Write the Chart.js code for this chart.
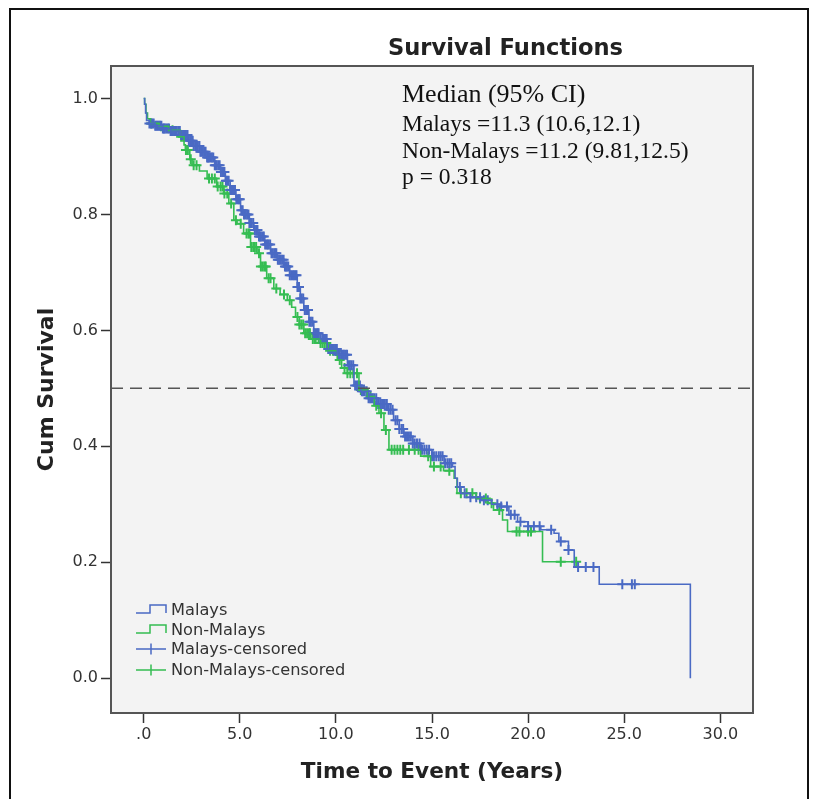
<!DOCTYPE html>
<html>
<head>
<meta charset="utf-8">
<title>Survival Functions</title>
<script src="https://cdn.jsdelivr.net/npm/chart.js@4.4.1/dist/chart.umd.min.js"></script>
<style>
  html, body { margin: 0; padding: 0; background: #fff; }
  #wrap { position: relative; width: 826px; height: 799px; }
</style>
</head>
<body>
<div id="wrap"><canvas id="km"></canvas></div>
<script>
// Kaplan-Meier steps: time (years) and survival after the event at that time
const malaysTime = [0, 0.05, 0.1, 0.15, 0.3, 0.6, 1.0, 1.4, 1.9, 2.3, 2.6, 2.95, 3.3, 3.7, 4.0, 4.25, 4.5, 4.8,
  5.04, 5.2, 5.5, 5.73, 6.0, 6.3, 6.6, 6.95, 7.29, 7.6, 7.99, 8.15, 8.33, 8.6, 8.85, 9.2, 9.55, 10.07, 10.6,
  10.94, 11.3, 11.7, 12.2, 12.68, 13.0, 13.3, 13.54, 14.0, 14.41, 15.0, 15.63, 16.06, 16.2, 16.32, 16.5, 17.0,
  17.54, 18.1, 18.58, 19.0, 19.45, 20.0, 20.66, 21.35, 21.6, 22.1, 22.4, 23.7, 28.44];
const malaysSurv = [1.0, 0.99, 0.975, 0.962, 0.957, 0.953, 0.948, 0.944, 0.937, 0.927, 0.918, 0.908, 0.898, 0.885,
  0.873, 0.858, 0.842, 0.826, 0.807, 0.8, 0.785, 0.773, 0.762, 0.748, 0.733, 0.722, 0.71, 0.695, 0.675, 0.655,
  0.635, 0.615, 0.595, 0.585, 0.568, 0.558, 0.54, 0.505, 0.495, 0.483, 0.473, 0.463, 0.445, 0.43, 0.417, 0.405,
  0.394, 0.383, 0.371, 0.365, 0.345, 0.33, 0.319, 0.312, 0.307, 0.3, 0.296, 0.282, 0.27, 0.262, 0.256, 0.25,
  0.236, 0.221, 0.192, 0.162, 0];

const nonMalaysTime = [0, 0.05, 0.12, 0.2, 0.35, 0.8, 1.3, 1.91, 2.1, 2.17, 2.4, 2.52, 2.9, 3.3, 3.8, 4.17, 4.43,
  4.69, 4.86, 5.2, 5.56, 5.9, 6.08, 6.4, 6.77, 7.1, 7.47, 7.7, 7.9, 8.1, 8.33, 8.7, 9.2, 9.6, 10.07, 10.3, 10.6,
  11.2, 11.64, 12.0, 12.24, 12.5, 12.76, 14.41, 14.93, 15.6, 16.15, 16.3, 17.3, 17.9, 18.2, 18.67, 18.93, 20.75,
  22.5];
const nonMalaysSurv = [1.0, 0.99, 0.975, 0.965, 0.957, 0.952, 0.945, 0.934, 0.92, 0.911, 0.895, 0.885, 0.875,
  0.862, 0.848, 0.836, 0.819, 0.79, 0.784, 0.767, 0.744, 0.733, 0.71, 0.69, 0.672, 0.662, 0.652, 0.64, 0.623,
  0.61, 0.595, 0.585, 0.578, 0.565, 0.549, 0.535, 0.526, 0.497, 0.486, 0.47, 0.457, 0.428, 0.394, 0.383, 0.365,
  0.358, 0.345, 0.319, 0.31, 0.302, 0.29, 0.273, 0.253, 0.201, 0.201];

// censored follow-up times
const malaysCensor = [0.3, 0.38, 0.45, 0.52, 0.6, 0.66, 0.72, 0.78, 0.85, 0.92, 1.0, 1.05, 1.1, 1.18, 1.25,
  1.32, 1.4, 1.45, 1.5, 1.58, 1.65, 1.72, 1.8, 1.88, 1.95, 2.0, 2.05, 2.12, 2.2, 2.28, 2.35, 2.42, 2.5, 2.55,
  2.6, 2.68, 2.75, 2.82, 2.9, 2.95, 3.0, 3.08, 3.15, 3.22, 3.3, 3.35, 3.4, 3.48, 3.55, 3.62, 3.7, 3.75, 3.8,
  3.88, 3.95, 4.02, 4.1, 4.15, 4.2, 4.28, 4.35, 4.42, 4.5, 4.55, 4.6, 4.68, 4.75, 4.82, 4.9, 4.95, 5.0, 5.08,
  5.15, 5.22, 5.3, 5.38, 5.45, 5.5, 5.55, 5.62, 5.7, 5.78, 5.85, 5.92, 6.0, 6.05, 6.1, 6.18, 6.25, 6.32, 6.4,
  6.45, 6.5, 6.58, 6.65, 6.72, 6.8, 6.85, 6.9, 6.98, 7.05, 7.12, 7.2, 7.28, 7.35, 7.4, 7.45, 7.52, 7.6, 7.68,
  7.75, 7.82, 7.9, 7.95, 8.0, 8.08, 8.15, 8.22, 8.3, 8.38, 8.45, 8.5, 8.55, 8.62, 8.7, 8.78, 8.85, 8.92, 9.0,
  9.05, 9.1, 9.2, 9.3, 9.38, 9.45, 9.52, 9.6, 9.68, 9.75, 9.82, 9.9, 9.98, 10.05, 10.12, 10.2, 10.28, 10.35,
  10.42, 10.5, 10.58, 10.65, 10.72, 10.8, 10.9, 11.0, 11.08, 11.15, 11.25, 11.35, 11.42, 11.5, 11.6, 11.7,
  11.78, 11.85, 11.92, 12.0, 12.1, 12.2, 12.3, 12.4, 12.48, 12.55, 12.65, 12.75, 12.85, 12.95, 13.1, 13.2,
  13.3, 13.42, 13.5, 13.6, 13.7, 13.8, 13.9, 14.0, 14.1, 14.22, 14.35, 14.48, 14.6, 14.72, 14.85, 15.0, 15.1,
  15.22, 15.35, 15.45, 15.55, 15.68, 15.8, 15.9, 16.0, 16.45, 16.7, 17.0, 17.3, 17.5, 17.7, 17.9, 18.4, 18.6,
  18.9, 19.1, 19.3, 19.6, 20.0, 20.3, 20.6, 21.2, 21.7, 22.1, 22.6, 23.0, 23.4, 24.9, 25.4, 25.55];
const nonMalaysCensor = [0.4, 0.9, 1.5, 1.95, 2.05, 2.2, 2.3, 2.45, 2.6, 2.75, 3.4, 3.55, 3.7, 3.85, 4.0, 4.1,
  4.2, 4.35, 4.55, 4.8, 5.05, 5.35, 5.45, 5.5, 5.6, 5.7, 5.75, 5.85, 6.0, 6.1, 6.2, 6.3, 6.35, 6.5, 6.6, 6.9,
  7.3, 7.6, 8.0, 8.1, 8.2, 8.3, 8.4, 8.5, 8.6, 8.65, 8.8, 8.9, 8.95, 9.1, 9.2, 9.3, 9.4, 9.5, 9.7, 9.85, 10.0,
  10.2, 10.45, 10.6, 10.75, 10.9, 11.1, 11.3, 11.45, 11.8, 12.1, 12.35, 12.6, 12.9, 13.05, 13.2, 13.35, 13.5,
  13.8, 14.1, 14.3, 14.8, 15.1, 15.45, 15.9, 16.5, 16.8, 17.1, 17.5, 17.8, 18.1, 18.5, 19.4, 19.55, 20.0,
  20.15, 21.7, 22.5];

const medianLevel = 0.5;

const xTicks = [0, 5, 10, 15, 20, 25, 30];
const xTickLabels = ['.0', '5.0', '10.0', '15.0', '20.0', '25.0', '30.0'];
const yTicks = [0, 0.2, 0.4, 0.6, 0.8, 1.0];
const yTickLabels = ['0.0', '0.2', '0.4', '0.6', '0.8', '1.0'];

const noteLines = ['Median (95% CI)', 'Malays =11.3 (10.6,12.1)', 'Non-Malays =11.2 (9.81,12.5)', 'p = 0.318'];

const BLUE = '#4a6ac4';
const GREEN = '#35bd52';
const X_MIN = -1.7, X_MAX = 31.7;

function toPoints(times, surv) {
  return times.map((t, i) => ({ x: t, y: surv[i] }));
}

// survival value of the step curve at time t
function survivalAt(times, surv, t) {
  let s = surv[0];
  for (let i = 0; i < times.length; i++) {
    if (times[i] <= t) s = surv[i]; else break;
  }
  return s;
}

function censorPoints(censor, times, surv) {
  return censor.map(t => ({ x: t, y: survivalAt(times, surv, t) }));
}

const framePlugin = {
  id: 'frame',
  beforeDatasetsDraw(chart) {
    const { ctx, chartArea: a } = chart;
    ctx.save();
    ctx.fillStyle = '#f3f3f3';
    ctx.fillRect(a.left, a.top, a.right - a.left, a.bottom - a.top);
    ctx.restore();
  },
  afterDatasetsDraw(chart) {
    const { ctx, chartArea: a } = chart;
    ctx.save();
    ctx.strokeStyle = '#555';
    ctx.lineWidth = 2;
    ctx.strokeRect(a.left, a.top, a.right - a.left, a.bottom - a.top);
    ctx.restore();
  },
  afterDraw(chart) {
    const { ctx } = chart;
    ctx.save();
    // outer frame
    ctx.strokeStyle = '#111';
    ctx.lineWidth = 2;
    ctx.beginPath();
    ctx.moveTo(10, 799);
    ctx.lineTo(10, 9);
    ctx.lineTo(808, 9);
    ctx.lineTo(808, 799);
    ctx.stroke();

    // title
    ctx.fillStyle = '#222';
    ctx.font = 'bold 22.6px "DejaVu Sans"';
    ctx.textAlign = 'left';
    ctx.textBaseline = 'alphabetic';
    ctx.fillText('Survival Functions', 388, 55);

    // median note
    ctx.fillStyle = '#111';
    const baselines = [102, 131, 158, 184];
    noteLines.forEach((line, i) => {
      ctx.font = (i === 0 ? 26 : 23.5) + 'px "Liberation Serif"';
      ctx.fillText(line, 402, baselines[i]);
    });

    // legend
    const items = [
      { text: 'Malays', color: BLUE, kind: 'step' },
      { text: 'Non-Malays', color: GREEN, kind: 'step' },
      { text: 'Malays-censored', color: BLUE, kind: 'cross' },
      { text: 'Non-Malays-censored', color: GREEN, kind: 'cross' }
    ];
    ctx.font = '16.2px "DejaVu Sans"';
    const lx = 136, ly = [615, 635, 654, 675];
    items.forEach((it, i) => {
      const y = ly[i] - 5;
      ctx.strokeStyle = it.color;
      ctx.lineWidth = 1.5;
      ctx.beginPath();
      if (it.kind === 'step') {
        ctx.moveTo(lx, y + 3);
        ctx.lineTo(lx + 14, y + 3);
        ctx.lineTo(lx + 14, y - 5);
        ctx.lineTo(lx + 30, y - 5);
        ctx.lineTo(lx + 30, y + 3);
      } else {
        ctx.moveTo(lx, y);
        ctx.lineTo(lx + 30, y);
        ctx.moveTo(lx + 15, y - 5.5);
        ctx.lineTo(lx + 15, y + 5.5);
      }
      ctx.stroke();
      ctx.fillStyle = '#333';
      ctx.fillText(it.text, lx + 35, ly[i]);
    });
    ctx.restore();
  }
};

new Chart(document.getElementById('km'), {
  data: {
    datasets: [
      {
        type: 'line',
        label: 'median',
        data: [{ x: X_MIN, y: medianLevel }, { x: X_MAX, y: medianLevel }],
        borderColor: '#555',
        borderWidth: 1.5,
        borderDash: [12, 7],
        pointRadius: 0
      },
      {
        type: 'line',
        label: 'Malays',
        data: toPoints(malaysTime, malaysSurv),
        stepped: 'before',
        borderColor: BLUE,
        borderWidth: 1.6,
        pointRadius: 0
      },
      {
        type: 'line',
        label: 'Non-Malays',
        data: toPoints(nonMalaysTime, nonMalaysSurv),
        stepped: 'before',
        borderColor: GREEN,
        borderWidth: 1.6,
        pointRadius: 0
      },
      {
        type: 'scatter',
        label: 'Malays-censored',
        data: censorPoints(malaysCensor, malaysTime, malaysSurv),
        pointStyle: 'cross',
        pointRadius: 5,
        borderColor: BLUE,
        borderWidth: 2
      },
      {
        type: 'scatter',
        label: 'Non-Malays-censored',
        data: censorPoints(nonMalaysCensor, nonMalaysTime, nonMalaysSurv),
        pointStyle: 'cross',
        pointRadius: 5,
        borderColor: GREEN,
        borderWidth: 2
      }
    ]
  },
  options: {
    responsive: true,
    maintainAspectRatio: false,
    animation: false,
    layout: { padding: { top: 66, right: 73, left: 0, bottom: 0 } },
    plugins: {
      legend: { display: false },
      tooltip: { enabled: false },
      title: { display: false }
    },
    scales: {
      x: {
        type: 'linear',
        min: X_MIN,
        max: X_MAX,
        afterFit: s => { s.height = 86; },
        afterBuildTicks: s => { s.ticks = xTicks.map(v => ({ value: v })); },
        ticks: {
          padding: 2,
          color: '#333',
          font: { family: 'DejaVu Sans', size: 16 },
          callback: (v) => xTickLabels[xTicks.indexOf(v)]
        },
        grid: { drawOnChartArea: false, drawTicks: true, tickLength: 10, tickColor: '#333', tickWidth: 1.5 },
        border: { display: false },
        title: {
          display: true,
          text: 'Time to Event (Years)',
          color: '#222',
          font: { family: 'DejaVu Sans', size: 21.6, weight: 'bold' },
          padding: { top: 0, bottom: 14 }
        }
      },
      y: {
        type: 'linear',
        min: -0.06,
        max: 1.056,
        afterFit: s => { s.width = 111; },
        afterBuildTicks: s => { s.ticks = yTicks.map(v => ({ value: v })); },
        ticks: {
          padding: 3,
          color: '#333',
          font: { family: 'DejaVu Sans', size: 16 },
          callback: (v) => yTickLabels[yTicks.indexOf(v)]
        },
        grid: { drawOnChartArea: false, drawTicks: true, tickLength: 10, tickColor: '#333', tickWidth: 1.5 },
        border: { display: false },
        title: {
          display: true,
          text: 'Cum Survival',
          color: '#222',
          font: { family: 'DejaVu Sans', size: 22, weight: 'bold' },
          padding: { top: 34, bottom: 0 }
        }
      }
    }
  },
  plugins: [framePlugin]
});
</script>
</body>
</html>
